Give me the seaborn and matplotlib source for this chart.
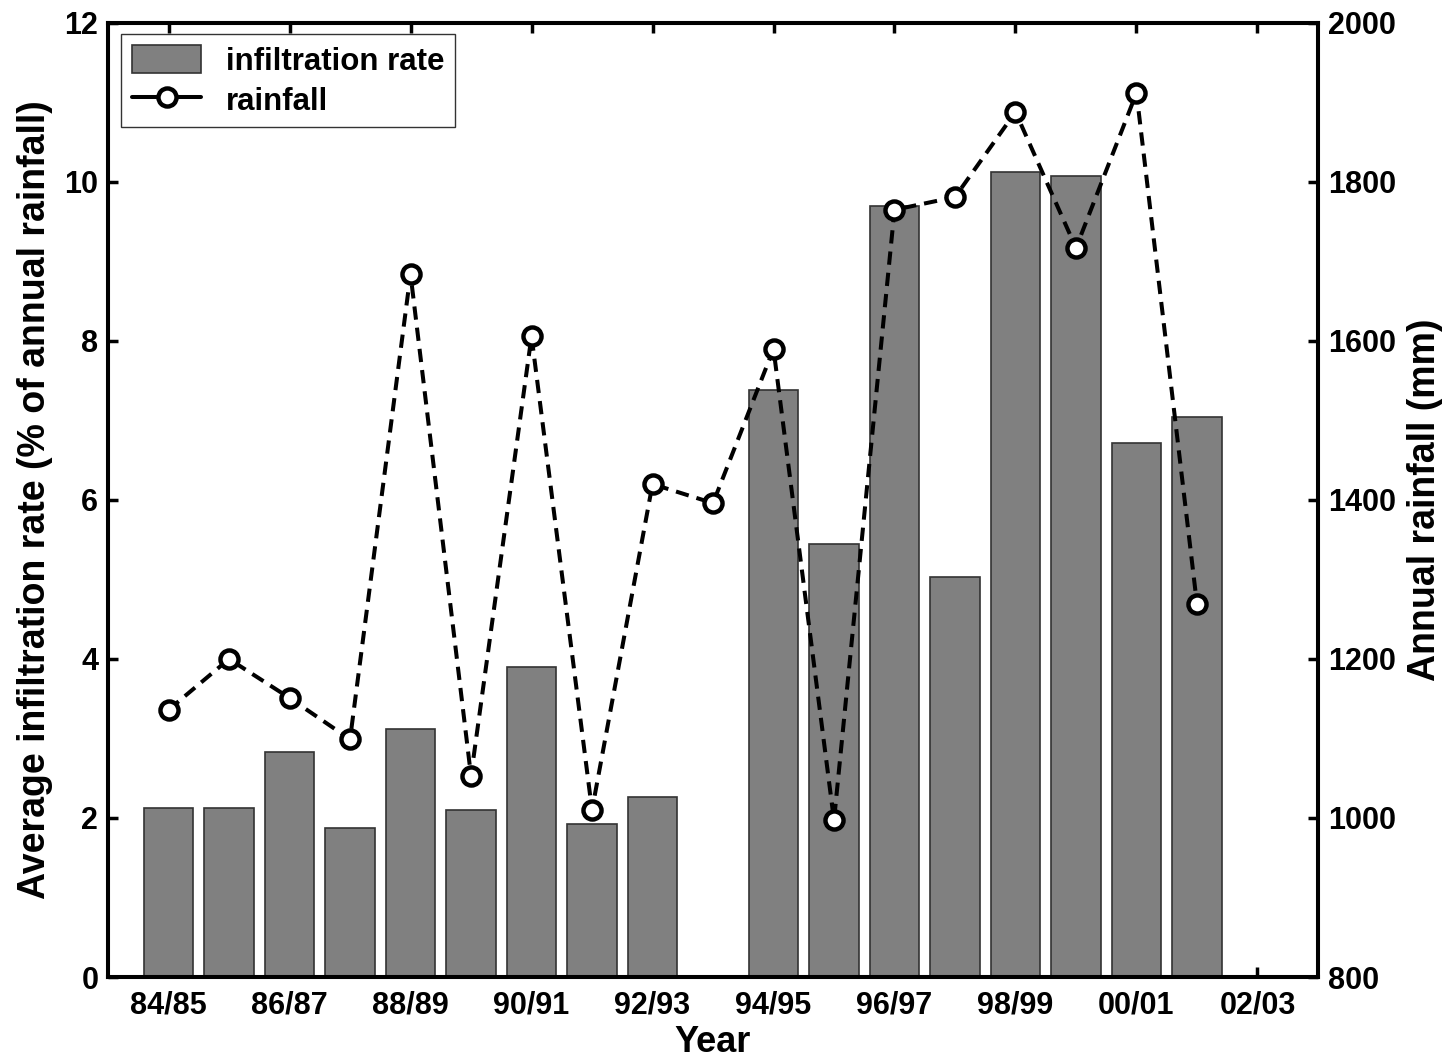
import numpy as np
import pandas as pd
import matplotlib
matplotlib.use("Agg")
import matplotlib.pyplot as plt
from matplotlib.patches import Patch
from matplotlib.lines import Line2D
import seaborn as sns

# year slots 84/85 .. 01/02 (93/94 has no infiltration value)
year_pos = list(range(18))
infiltration = [2.12, 2.12, 2.83, 1.87, 3.12, 2.10, 3.90, 1.92, 2.26, np.nan,
                7.38, 5.45, 9.70, 5.03, 10.12, 10.08, 6.72, 7.05]
rainfall = [1136, 1200, 1151, 1099, 1684, 1053, 1606, 1010, 1420, 1396,
            1590, 997, 1765, 1781, 1888, 1717, 1912, 1269]
tick_pos = [0, 2, 4, 6, 8, 10, 12, 14, 16, 18]
tick_labels = ["84/85", "86/87", "88/89", "90/91", "92/93",
               "94/95", "96/97", "98/99", "00/01", "02/03"]

sns.set_style("white")
plt.rcParams["font.family"] = ["Liberation Sans", "DejaVu Sans"]
plt.rcParams["font.weight"] = "bold"
plt.rcParams["text.color"] = "black"
plt.rcParams["axes.labelcolor"] = "black"
plt.rcParams["xtick.color"] = "black"
plt.rcParams["ytick.color"] = "black"

df = pd.DataFrame({"pos": year_pos, "infiltration": infiltration, "rainfall": rainfall})
bars = df.dropna(subset=["infiltration"])

fig = plt.figure(figsize=(14.52, 10.63), dpi=100)
ax = fig.add_axes([0.0744, 0.0809, 0.8333, 0.8975])

sns.barplot(data=bars, x="pos", y="infiltration", native_scale=True, width=0.82,
            color="#808080", saturation=1, edgecolor="#333333", linewidth=1.2, ax=ax)

ax2 = ax.twinx()
sns.lineplot(data=df, x="pos", y="rainfall", ax=ax2, color="black", linewidth=2.9,
             marker="o", markersize=13, markerfacecolor="white", markeredgecolor="black",
             markeredgewidth=3.2)
ax2.lines[0].set_dashes([3.3, 2])

ax.set_xlim(-1, 19)
ax.set_ylim(0, 12)
ax2.set_ylim(800, 2000)
ax.set_xticks(tick_pos)
ax.set_xticklabels(tick_labels)
ax.set_yticks(np.arange(0, 13, 2))
ax2.set_yticks(np.arange(800, 2001, 200))

ax.set_xlabel("Year", fontsize=26, fontweight="bold", labelpad=3)
ax.set_ylabel("Average infiltration rate (% of annual rainfall)", fontsize=27,
              fontweight="bold", labelpad=8)
ax2.set_ylabel("Annual rainfall (mm)", fontsize=27, fontweight="bold", labelpad=8)

for a in (ax, ax2):
    for s in a.spines.values():
        s.set_linewidth(2.9)
        s.set_color("black")
ax.tick_params(axis="x", direction="in", length=7, width=2.5, labelsize=22,
               top=True, bottom=True, pad=10)
ax.tick_params(axis="y", direction="in", length=7, width=2.5, labelsize=22, pad=7)
ax2.tick_params(axis="y", direction="in", length=7, width=2.5, labelsize=22, pad=7)

handles = [Patch(facecolor="#808080", edgecolor="#333333", linewidth=1.2),
           Line2D([], [], color="black", linewidth=2.9, marker="o", markersize=13,
                  markerfacecolor="white", markeredgewidth=3.2)]
leg = ax2.legend(handles, ["infiltration rate", "rainfall"], loc="upper left",
                 bbox_to_anchor=(0.011, 0.988), fontsize=22.5, frameon=True,
                 fancybox=False, edgecolor="black", handlelength=2.2,
                 handleheight=1.0, borderpad=0.35, labelspacing=0.25,
                 handletextpad=0.8, borderaxespad=0)
leg.get_frame().set_linewidth(1.0)

fig.savefig("out.png", dpi=100)
